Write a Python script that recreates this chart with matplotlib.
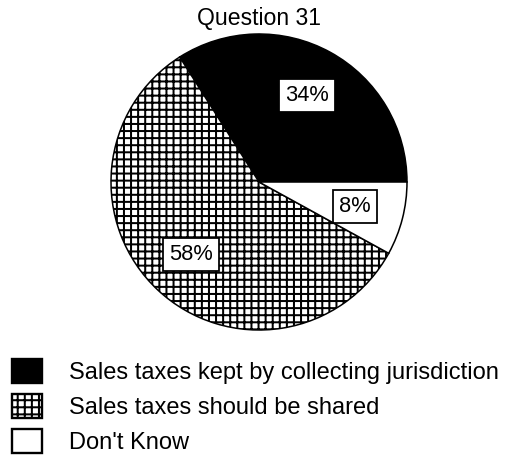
import matplotlib
matplotlib.use('Agg')
import matplotlib.pyplot as plt

# data
labels = ['Sales taxes kept by collecting jurisdiction',
          'Sales taxes should be shared',
          "Don't Know"]
values = [34, 58, 8]
colors = ['black', 'white', 'white']
hatches = ['', '++', '']
title = 'Question 31'

plt.rcParams['font.family'] = ['Liberation Sans', 'DejaVu Sans']
plt.rcParams['hatch.linewidth'] = 1.7
plt.rcParams['hatch.color'] = 'black'

DPI = 85
W, H = 513, 457
fig = plt.figure(figsize=(W / DPI, H / DPI), dpi=DPI)

# pie axes: centre (259,182) px, radius 148 px
cx, cy, r = 259, 182, 148
ax = fig.add_axes([(cx - r) / W, (H - cy - r) / H, 2 * r / W, 2 * r / H])

wedges, texts, autotexts = ax.pie(
    values, colors=colors, startangle=0, counterclock=True,
    autopct='%d%%', pctdistance=0.67,
    wedgeprops=dict(edgecolor='black', linewidth=1.3),
    textprops=dict(fontsize=18.5, color='black'))
for w, h in zip(wedges, hatches):
    w.set_hatch(h)
    w.set_clip_on(False)
for t in autotexts:
    t.set_bbox(dict(boxstyle='square,pad=0.27', facecolor='white',
                    edgecolor='black', linewidth=1.5))
ax.set_xlim(-1, 1)
ax.set_ylim(-1, 1)
ax.set_aspect('equal')

fig.text(cx / W, 1 - 19 / H, title, ha='center', va='center', fontsize=19.5)

leg = fig.legend(wedges, labels, loc='upper left',
                 bbox_to_anchor=(12 / W, 1 - 359 / H),
                 frameon=False, fontsize=20, borderpad=0, borderaxespad=0,
                 handlelength=1.25, handleheight=1.18, handletextpad=1.18,
                 labelspacing=0.42)
for p in leg.get_patches():
    p.set_linewidth(2)

fig.savefig('out.png', dpi=DPI)
